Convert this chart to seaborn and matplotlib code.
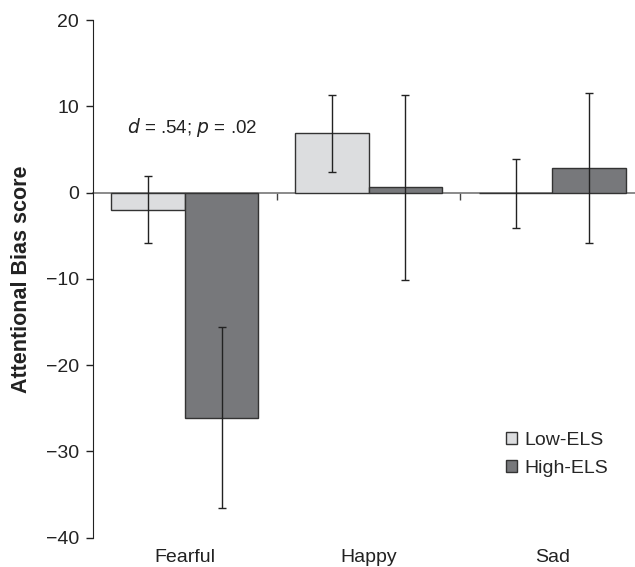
import numpy as np
import matplotlib
matplotlib.use("Agg")
import matplotlib.pyplot as plt
from matplotlib.patches import Patch
import seaborn as sns
import pandas as pd

# Values
emotions = ["Fearful", "Happy", "Sad"]
groups = ["Low-ELS", "High-ELS"]
low_mean = [-2.0, 6.85, -0.1]
high_mean = [-26.1, 0.6, 2.85]
low_err = [3.9, 4.5, 4.0]
high_err = [10.5, 10.7, 8.7]

colors = {"Low-ELS": "#dcdddf", "High-ELS": "#77787b"}

df = pd.DataFrame({
    "Emotion": emotions * 2,
    "Group": [groups[0]] * 3 + [groups[1]] * 3,
    "Score": low_mean + high_mean,
    "Err": low_err + high_err,
})

sns.set_style("white")
plt.rcParams["font.family"] = ["Liberation Sans", "DejaVu Sans"]

fig = plt.figure(figsize=(6.35, 5.67), dpi=100)
ax = fig.add_axes([0.1465, 0.0517, 0.8535, 0.913])

sns.barplot(data=df, x="Emotion", y="Score", hue="Group", order=emotions,
            hue_order=groups, palette=colors, errorbar=None, width=0.8,
            edgecolor="#333333", linewidth=1.0, legend=False, ax=ax)

# error bars at the centre of each bar
for bars, g in zip(ax.containers, groups):
    sub = df[df["Group"] == g].set_index("Emotion").loc[emotions]
    xs = [b.get_x() + b.get_width() / 2 for b in bars]
    ax.errorbar(xs, sub["Score"], yerr=sub["Err"], fmt="none",
                ecolor="#222222", elinewidth=1.0, capsize=2.8, capthick=1.0)

ax.set_xlim(-0.5, 2.45)
ax.set_ylim(-40, 20)
ax.set_yticks(np.arange(-40, 21, 10))

ax.spines["top"].set_visible(False)
ax.spines["right"].set_visible(False)
ax.spines["bottom"].set_visible(False)
ax.spines["left"].set_color("#222222")
ax.tick_params(axis="y", direction="out", length=5, width=1, colors="#222222",
               labelsize=14, pad=5, left=True)
ax.tick_params(axis="x", length=0, labelsize=14, pad=8, colors="#222222")

# zero line with small ticks between categories
zero = ax.secondary_xaxis(0, transform=ax.transData)
zero.set_xticks([0.5, 1.5])
zero.set_xticklabels(["", ""])
zero.spines["bottom"].set_color("#777777")
zero.spines["bottom"].set_linewidth(1.2)
zero.tick_params(direction="out", length=5, width=1, colors="#444444")

ax.set_xlabel("")
ax.set_ylabel("Attentional Bias score", fontsize=15.5, fontweight="bold",
              color="#222222", labelpad=10)

ax.text(0.04, 7.5, r"$\it{d}$ = .54; $\it{p}$ = .02", ha="center", va="center",
        fontsize=13.5, color="#222222")

handles = [Patch(facecolor=colors[g], edgecolor="#333333", linewidth=1.0) for g in groups]
ax.legend(handles, groups, loc="upper left", bbox_to_anchor=(0.73, 0.238),
          frameon=False, fontsize=14, handlelength=0.55, handleheight=0.55,
          handletextpad=0.4, labelspacing=0.55)

fig.savefig("out.png", dpi=100)
